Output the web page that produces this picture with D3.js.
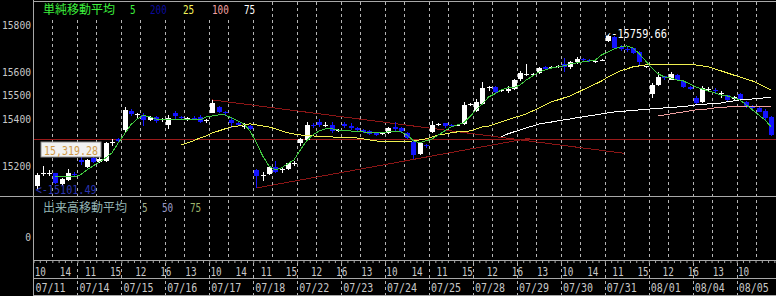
<!DOCTYPE html>
<html>
<head>
<meta charset="utf-8">
<script src="https://cdn.jsdelivr.net/npm/d3@7"></script>
<style>
  body { margin: 0; background: #000; }
  svg { display: block; }
</style>
</head>
<body>
<svg id="chart"></svg>
<script>
// ---- data ----
const dayLabels = ["07/11","07/14","07/15","07/16","07/17","07/18","07/22","07/23","07/24",
                   "07/25","07/28","07/29","07/30","07/31","08/01","08/04","08/05"];
const hourLabels = ["10","14","11","15","12","16","13","10","14","11","15","12","16","13",
                    "10","14","11","15","12","16","13","10","14","11","15","12","16","13","10"];
const yTicks = [15200, 15400, 15500, 15600, 15800];
const volTicks = [0];

// hourly candles, 7 per day
const openV = [
  15120,15168,15172,15172,15128,15145,15170,
  15228,15200,15238,15222,15225,15300,15318,
  15357,15440,15420,15422,15400,15413,15398,
  15378,15428,15412,15404,15408,15412,15395,
  15430,15455,15432,15400,15385,15372,15372,
  15187,15162,15170,15200,15185,15192,15212,
  15302,15315,15378,15392,15376,15380,15352,
  15382,15372,15365,15358,15352,15345,15340,
  15345,15368,15365,15345,15305,15255,15292,
  15350,15378,15385,15380,15376,15382,15462,
  15438,15468,15535,15540,15524,15525,15532,
  15575,15592,15592,15600,15625,15622,15625,
  15640,15625,15645,15660,15656,15650,15652,
  15738,15755,15712,15702,15705,15690,15625,
  15510,15550,15585,15572,15592,15566,15540,
  15495,15475,15530,15528,15512,15505,15490,
  15512,15476,15460,15452,15440,15412];
const highV = [
  15175,15205,15185,15176,15152,15190,15178,
  15240,15235,15242,15240,15305,15318,15322,
  15455,15445,15430,15428,15418,15418,15408,
  15420,15440,15418,15412,15418,15420,15402,
  15485,15460,15440,15410,15392,15385,15378,
  15192,15180,15205,15225,15200,15217,15225,
  15322,15392,15388,15402,15392,15392,15360,
  15392,15385,15370,15362,15356,15350,15350,
  15370,15392,15368,15348,15310,15305,15298,
  15395,15386,15388,15384,15384,15476,15470,
  15490,15560,15545,15545,15530,15545,15575,
  15610,15640,15598,15625,15630,15630,15632,
  15665,15650,15668,15664,15660,15656,15658,
  15760,15758,15718,15712,15708,15695,15630,
  15555,15605,15588,15602,15596,15572,15545,
  15500,15545,15540,15535,15525,15508,15500,
  15515,15480,15464,15456,15445,15415];
const lowV = [
  15101,15160,15162,15125,15118,15138,15160,
  15210,15195,15215,15215,15220,15290,15305,
  15350,15418,15410,15372,15395,15388,15390,
  15362,15405,15400,15396,15398,15388,15388,
  15428,15428,15420,15366,15372,15360,15355,
  15110,15140,15165,15175,15175,15188,15205,
  15290,15312,15365,15368,15368,15345,15348,
  15365,15358,15350,15345,15336,15330,15335,
  15340,15350,15348,15320,15235,15250,15280,
  15345,15374,15366,15368,15372,15378,15458,
  15435,15465,15525,15515,15518,15515,15528,
  15565,15588,15588,15595,15615,15618,15620,
  15605,15618,15640,15652,15648,15644,15650,
  15730,15700,15695,15690,15680,15635,15622,
  15495,15546,15572,15568,15566,15535,15528,
  15462,15470,15520,15515,15495,15480,15485,
  15480,15450,15446,15432,15400,15330];
const closeV = [
  15166,15172,15176,15130,15150,15172,15165,
  15220,15230,15222,15235,15300,15305,15312,
  15443,15425,15424,15400,15412,15395,15402,
  15410,15415,15408,15406,15404,15393,15398,
  15470,15432,15428,15385,15378,15375,15362,
  15160,15166,15200,15180,15190,15215,15218,
  15318,15378,15374,15378,15379,15352,15356,
  15375,15364,15356,15350,15342,15336,15344,
  15365,15360,15352,15325,15252,15300,15287,
  15378,15381,15374,15372,15380,15465,15466,
  15475,15535,15538,15520,15527,15530,15570,
  15600,15595,15595,15620,15618,15625,15628,
  15625,15645,15660,15655,15652,15652,15656,
  15756,15708,15700,15698,15685,15645,15628,
  15550,15582,15577,15596,15570,15542,15532,
  15470,15535,15533,15522,15515,15485,15496,
  15486,15455,15450,15435,15408,15337];

// moving averages, first value belongs to candle maXStart
const ma5Start = 3;
const ma5 = [
  15157,15157,15157,15157,15166,15187,15204,15221,15238,15260,15302,
  15340,15379,15404,15419,15413,15404,15400,
  15400,15402,15402,15400,15400,15400,15413,
  15417,15421,15421,15409,15396,15383,15353,
  15302,15247,15204,15187,15196,15213,15230,
  15272,15311,15336,15353,15362,15362,15357,
  15353,15353,15349,15349,15345,15345,15345,
  15349,15349,15349,15336,15311,15302,15311,
  15319,15336,15353,15370,15379,15387,15413,
  15443,15468,15498,15511,15528,15536,15538,
  15549,15570,15587,15604,15613,15621,15626,
  15630,15638,15643,15647,15651,15655,15677,
  15689,15702,15711,15715,15706,15681,15651,
  15621,15596,15583,15579,15570,15566,15553,
  15540,15532,15523,15515,15506,15502,15494,
  15485,15464,15443,15421,15400,15370];
const ma25Start = 23;
const ma25 = [
  15294,15302,15311,15323,15332,
  15345,15353,15362,15370,15374,15379,15383,
  15379,15374,15370,15362,15353,15345,15340,
  15336,15332,15332,15328,15328,15328,15323,
  15323,15323,15323,15319,15315,15311,15306,
  15306,15306,15306,15306,15311,15315,15319,
  15328,15336,15340,15345,15349,15349,15353,
  15362,15370,15374,15383,15391,15400,15409,
  15417,15426,15438,15451,15464,15477,15485,
  15494,15502,15515,15528,15540,15553,15566,
  15583,15596,15609,15617,15626,15630,15634,
  15634,15638,15638,15638,15638,15638,15634,
  15634,15630,15626,15617,15609,15600,15591,
  15583,15574,15566,15553,15540,15528];
const ma75Start = 74;
const ma75 = [
  15328,15340,15349,
  15357,15366,15374,15383,15387,15391,15396,
  15400,15404,15409,15413,15417,15421,15426,
  15430,15434,15436,15438,15440,15443,15445,
  15447,15449,15451,15453,15455,15457,15460,
  15464,15466,15468,15470,15472,15477,15481,
  15485,15487,15489,15491,15494,15494];
const ma100Start = 99;
const ma100 = [
  15417,15421,15426,15430,15434,15438,
  15443,15445,15447,15451,15453,15455,15455,
  15455,15455,15455,15455,15455,15455];

const markPrice = 15319.28;
// trend lines: [hour position, price] pairs
const trendDown = [[28.5, 15485], [94, 15258]];
const trendUp = [[35.5, 15110], [79, 15322]];
const lowMark = { i: 0, value: 15101.49 };
const highMark = { i: 91, value: 15759.66 };

// ---- layout ----
const W = 776, H = 296;
const LEFT = 33.5, DAYW = 43.95, HPD = 7;
const MONO = "'DejaVu Sans Mono', monospace";
const CJK = "'Noto Sans CJK JP', sans-serif";
const GRID = "#b4b4b4", FRAME = "#a8a8a8", LABEL = "#c8c8c8";

const svg = d3.select("#chart").attr("width", W).attr("height", H);
svg.append("rect").attr("width", W).attr("height", H).attr("fill", "#000");

const x = d3.scaleLinear().domain([0, dayLabels.length * HPD])
  .range([LEFT, LEFT + dayLabels.length * DAYW]);
const y = d3.scaleLinear().domain([15076, 15902]).range([196, 2]);
const yVol = d3.scaleLinear().domain([-1, 1]).range([260, 214]);
const cx = i => x(i + 0.5);

function fit(sel, perChar) {
  sel.attr("textLength", function() { return this.textContent.length * perChar; })
     .attr("lengthAdjust", "spacingAndGlyphs");
}

// dashed grid (day boundaries and mid-day)
const dayBounds = d3.range(1, dayLabels.length).map(k => k * HPD);
const midDay = d3.range(dayLabels.length).map(k => k * HPD + 3);
svg.append("g").selectAll("line").data(dayBounds.concat(midDay)).join("line")
  .attr("x1", d => Math.round(x(d)) + 0.5).attr("x2", d => Math.round(x(d)) + 0.5)
  .attr("y1", 2).attr("y2", 260)
  .attr("stroke", GRID).attr("stroke-dasharray", "3,3");
svg.append("g").selectAll("line").data(dayBounds).join("line")
  .attr("x1", d => Math.round(x(d)) + 0.5).attr("x2", d => Math.round(x(d)) + 0.5)
  .attr("y1", 263).attr("y2", 296)
  .attr("stroke", GRID).attr("stroke-dasharray", "3,3");

// frame
const frame = svg.append("g").attr("stroke", FRAME).attr("shape-rendering", "crispEdges");
frame.append("line").attr("x1", 33).attr("x2", W).attr("y1", 1.5).attr("y2", 1.5);
frame.append("line").attr("x1", 33.5).attr("x2", 33.5).attr("y1", 0).attr("y2", H);
frame.append("line").attr("x1", 0).attr("x2", W).attr("y1", 196.5).attr("y2", 196.5);
frame.append("line").attr("x1", 33).attr("x2", W).attr("y1", 260.5).attr("y2", 260.5);
frame.append("line").attr("x1", 33).attr("x2", W).attr("y1", 278.5).attr("y2", 278.5);
frame.append("line").attr("x1", 33).attr("x2", W).attr("y1", 295.5).attr("y2", 295.5);

// hourly ticks under the volume panel
svg.append("g").attr("transform", "translate(0,261)")
  .call(d3.axisBottom(x).tickValues(d3.range(0, dayLabels.length * HPD)).tickSize(2).tickFormat(""))
  .call(g => g.select(".domain").remove())
  .call(g => g.selectAll("line").attr("stroke", FRAME));

// hour labels
svg.append("g").attr("transform", "translate(0,261)")
  .call(d3.axisBottom(x).tickValues(hourLabels.map((_, k) => 1 + 4 * k))
    .tickFormat((d, k) => hourLabels[k]).tickSize(0).tickPadding(6))
  .call(g => g.select(".domain").remove())
  .call(g => g.selectAll("text").attr("fill", LABEL).attr("font-family", MONO).attr("font-size", 12)
    .call(fit, 5.6));

// date labels
svg.append("g").selectAll("text").data(dayLabels).join("text")
  .attr("x", (d, k) => x(k * HPD) + 2).attr("y", 292)
  .attr("fill", LABEL).attr("font-family", MONO).attr("font-size", 12)
  .text(d => d).call(fit, 6);

// price axis
svg.append("g").attr("transform", "translate(33,0)")
  .call(d3.axisLeft(y).tickValues(yTicks).tickSize(0).tickPadding(2).tickFormat(d3.format("d")))
  .call(g => g.select(".domain").remove())
  .call(g => g.selectAll("text").attr("fill", LABEL).attr("font-family", MONO).attr("font-size", 11)
    .attr("dy", "0.2em").call(fit, 5.8));

// volume axis
svg.append("g").attr("transform", "translate(33,0)")
  .call(d3.axisLeft(yVol).tickValues(volTicks).tickSize(0).tickPadding(2).tickFormat(d3.format("d")))
  .call(g => g.select(".domain").remove())
  .call(g => g.selectAll("text").attr("fill", LABEL).attr("font-family", MONO).attr("font-size", 11)
    .call(fit, 5.8));

// legends
svg.append("rect").attr("x", 34).attr("y", 2).attr("width", 225).attr("height", 15).attr("fill", "#000");
const leg = svg.append("g");
leg.append("text").attr("x", 43).attr("y", 14).attr("font-family", CJK).attr("font-size", 12)
  .attr("fill", "#3df03d").text("単純移動平均");
const maLegend = [["5", 130, "#3df03d"], ["200", 150, "#0a0a9c"], ["25", 183, "#f4f45a"],
                  ["100", 212, "#f4a0a0"], ["75", 244, "#ffffff"]];
leg.selectAll("text.n").data(maLegend).join("text").attr("class", "n")
  .attr("x", d => d[1]).attr("y", 14).attr("fill", d => d[2])
  .attr("font-family", MONO).attr("font-size", 12).text(d => d[0]).call(fit, 5.6);

const volLegend = [["出来高移動平均", 43, "#93b3b3", CJK, 12], ["5", 142, "#a4b494", MONO, 5.6],
                   ["50", 162, "#9c9cc8", MONO, 5.6], ["75", 190, "#9cb46c", MONO, 5.6]];
const vleg = svg.append("g");
vleg.selectAll("rect").data(volLegend).join("rect")
  .attr("x", d => d[1] - 1).attr("y", 201)
  .attr("width", d => d[0].length * d[4] + 2).attr("height", 14).attr("fill", "#000");
vleg.selectAll("text").data(volLegend).join("text")
  .attr("x", d => d[1]).attr("y", 212).attr("fill", d => d[2])
  .attr("font-family", d => d[3]).attr("font-size", 12).text(d => d[0])
  .each(function(d) { if (d[3] === MONO) d3.select(this).call(fit, d[4]); });

// plot area
svg.append("clipPath").attr("id", "plot").append("rect")
  .attr("x", 34).attr("y", 2).attr("width", W - 34).attr("height", 194);
const plot = svg.append("g").attr("clip-path", "url(#plot)");

// reference line and trend lines
plot.append("line").attr("x1", 34).attr("x2", W)
  .attr("y1", Math.round(y(markPrice)) + 0.5).attr("y2", Math.round(y(markPrice)) + 0.5)
  .attr("stroke", "#9a1a1a");
plot.selectAll("line.trend").data([trendDown, trendUp]).join("line").attr("class", "trend")
  .attr("x1", d => x(d[0][0])).attr("y1", d => y(d[0][1]))
  .attr("x2", d => x(d[1][0])).attr("y2", d => y(d[1][1]))
  .attr("stroke", "#8c1616").attr("shape-rendering", "crispEdges");

// candles
const candles = openV.map((o, i) => ({ i, o, h: highV[i], l: lowV[i], c: closeV[i] }));
const up = "#ffffff", down = "#1414ff";
const cg = plot.append("g").attr("shape-rendering", "crispEdges");
cg.selectAll("line").data(candles).join("line")
  .attr("x1", d => Math.round(cx(d.i)) + 0.5).attr("x2", d => Math.round(cx(d.i)) + 0.5)
  .attr("y1", d => y(d.h)).attr("y2", d => y(d.l))
  .attr("stroke", d => d.c >= d.o ? up : down);
cg.selectAll("rect").data(candles).join("rect")
  .attr("x", d => Math.round(cx(d.i)) - 2).attr("width", 5)
  .attr("y", d => y(Math.max(d.o, d.c)))
  .attr("height", d => Math.max(1, Math.abs(y(d.o) - y(d.c))))
  .attr("fill", d => d.c >= d.o ? up : down);

// moving averages
const maLine = (start) => d3.line().x((v, k) => cx(start + k)).y(v => y(v));
const mas = [[ma100, ma100Start, "#f0a0a0"], [ma75, ma75Start, "#ffffff"],
             [ma25, ma25Start, "#f0f050"], [ma5, ma5Start, "#40c840"]];
plot.selectAll("path.ma").data(mas).join("path").attr("class", "ma")
  .attr("d", d => maLine(d[1])(d[0]))
  .attr("fill", "none").attr("stroke", d => d[2]).attr("stroke-width", 1)
  .attr("shape-rendering", "crispEdges");

// price box for the reference line
const box = svg.append("g");
box.append("rect").attr("x", 41).attr("y", 142).attr("width", 60).attr("height", 15)
  .attr("fill", "#f2f2f2").attr("stroke", "#909090");
box.append("text").attr("x", 44).attr("y", 154.5).attr("fill", "#d09a48")
  .attr("font-family", MONO).attr("font-size", 12)
  .text(d3.format(",.2f")(markPrice)).call(fit, 6);

// low / high annotations
svg.append("text").attr("x", cx(lowMark.i) - 1).attr("y", 194)
  .attr("fill", "#2a34b0").attr("font-family", MONO).attr("font-size", 12)
  .text("<-" + lowMark.value.toFixed(2)).call(fit, 6.1);
svg.append("text").attr("x", cx(highMark.i) - 3).attr("y", 38)
  .attr("fill", "#ffffff").attr("font-family", MONO).attr("font-size", 12)
  .text("↙-" + highMark.value.toFixed(2)).call(fit, 6.2);
</script>
</body>
</html>
